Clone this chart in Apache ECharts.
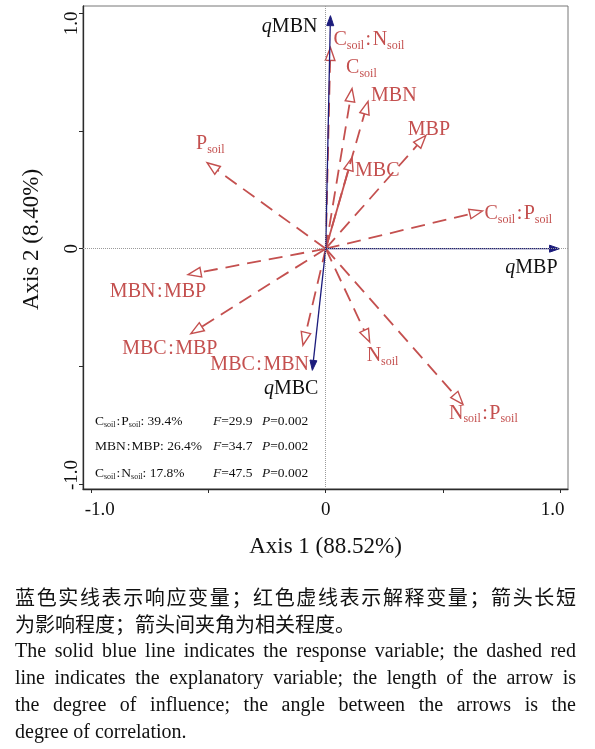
<!DOCTYPE html>
<html>
<head>
<meta charset="utf-8">
<script src="https://cdn.jsdelivr.net/npm/echarts@6/dist/echarts.min.js"></script>
<style>
  html, body { margin: 0; padding: 0; background: #fff; }
  #chart { position: absolute; left: 0; top: 0; width: 595px; height: 749px; }
  #caption { position: absolute; left: 15px; top: 583px; width: 561px; color: #111; }
  #caption div { margin: 0; line-height: 27px; height: 27px; white-space: nowrap; }
  #caption .j { text-align: justify; text-align-last: justify; white-space: normal; }
  #caption .zh { font-family: "Noto Sans CJK SC", sans-serif; font-size: 20px; }
  #caption .en { font-family: "Liberation Serif", "Times New Roman", serif; font-size: 20px; }
</style>
</head>
<body>
<div id="chart"></div>
<div id="caption">
  <div class="zh j">蓝色实线表示响应变量；红色虚线表示解释变量；箭头长短</div>
  <div class="zh">为影响程度；箭头间夹角为相关程度。</div>
  <div class="en j">The solid blue line indicates the response variable; the dashed red</div>
  <div class="en j">line indicates the explanatory variable; the length of the arrow is</div>
  <div class="en j">the degree of influence; the angle between the arrows is the</div>
  <div class="en">degree of correlation.</div>
</div>
<script>
// ---- data ----
const responseNames = ['qMBN', 'qMBP', 'qMBC'];
const responseX = [0.02, 0.995, -0.057];
const responseY = [0.99, 0.0, -0.517];

const explanatoryNames = ['Csoil:Nsoil', 'Csoil', 'MBN', 'MBP', 'MBC', 'Csoil:Psoil',
  'Psoil', 'MBN:MBP', 'MBC:MBP', 'MBC:MBN', 'Nsoil', 'Nsoil:Psoil'];
const explanatoryX = [0.02, 0.112, 0.18, 0.426, 0.112, 0.667, -0.505, -0.586, -0.574, -0.097, 0.187, 0.584];
const explanatoryY = [0.855, 0.68, 0.626, 0.481, 0.387, 0.16, 0.365, -0.11, -0.361, -0.41, -0.397, -0.661];

const tickValues = [-1, -0.5, 0, 0.5, 1];
const tickLabelValues = [-1, 0, 1];
const tickLabels = ['-1.0', '0', '1.0'];

const statVariables = ['Csoil:Psoil', 'MBN:MBP', 'Csoil:Nsoil'];
const statExplained = ['39.4%', '26.4%', '17.8%'];
const statF = ['29.9', '34.7', '47.5'];
const statP = ['0.002', '0.002', '0.002'];

// ---- styling / layout ----
const RED = '#c4504f';
const BLUE = '#1c1c7c';
const FONT = '"Liberation Serif", "Times New Roman", serif';
const solidExplanatory = ['MBC'];

// label placement relative to arrow tip, in pixels: [dx, dy, align]
const explanatoryLabelPlace = [
  [3, -8, 'left'], [-6, -21, 'left'], [3, -6, 'left'], [-18, -6, 'left'],
  [3, 13, 'left'], [2, 3, 'left'], [-11, -19, 'left'], [-30, 17, 'center'],
  [-21, 15, 'center'], [6, 20, 'right'], [-3, 14, 'left'], [-14, 9, 'left']
];
const responseLabelPlace = [[-13, 11, 'right'], [-2, 19, 'right'], [6, 18, 'right']];

function richName(name) {
  return name.replace(/^q/, '{i|q}').replace(/soil/g, '{s|soil}').replace(/:/g, '{c|:}');
}

const labelRich = {
  s: { fontSize: 12, fontFamily: FONT, padding: [12, 0, 0, 0] },
  c: { fontSize: 20, fontFamily: FONT, padding: [0, 1.5, 0, 1.5] },
  i: { fontSize: 20, fontStyle: 'italic', fontFamily: FONT }
};

function makeArrowRenderer(names, places, color, isResponse) {
  return function (params, api) {
    const p0 = api.coord([0, 0]);
    const p1 = api.coord([api.value(0), api.value(1)]);
    const dx = p1[0] - p0[0], dy = p1[1] - p0[1];
    const len = Math.hypot(dx, dy);
    const ux = dx / len, uy = dy / len;
    const L = isResponse ? 10 : 13;
    const W = isResponse ? 3.5 : 4.8;
    const base = [p1[0] - ux * L, p1[1] - uy * L];
    const left = [base[0] - uy * W, base[1] + ux * W];
    const right = [base[0] + uy * W, base[1] - ux * W];
    const name = names[params.dataIndex];
    const solid = isResponse || solidExplanatory.indexOf(name) >= 0;
    const place = places[params.dataIndex];
    return {
      type: 'group',
      children: [
        {
          type: 'line',
          shape: { x1: p0[0], y1: p0[1], x2: base[0], y2: base[1] },
          style: {
            stroke: color,
            lineWidth: isResponse ? 1.3 : 1.8,
            lineDash: solid ? null : [14, 8]
          }
        },
        {
          type: 'polygon',
          shape: { points: [p1, left, right] },
          style: isResponse
            ? { fill: color, stroke: color, lineWidth: 1 }
            : { fill: 'none', stroke: color, lineWidth: 1.4 }
        },
        {
          type: 'text',
          style: {
            text: richName(name),
            x: p1[0] + place[0],
            y: p1[1] + place[1],
            align: place[2],
            verticalAlign: 'middle',
            fill: isResponse ? '#111' : color,
            fontSize: 20,
            fontFamily: FONT,
            rich: labelRich
          }
        }
      ]
    };
  };
}

const respData = responseNames.map((n, i) => [responseX[i], responseY[i]]);
const explData = explanatoryNames.map((n, i) => [explanatoryX[i], explanatoryY[i]]);

// statistics table (annotation text)
const statRows = [423, 448.5, 475];
const tableRich = {
  s: { fontSize: 8, fontFamily: FONT, padding: [8, 0, 0, 0] },
  c: { fontSize: 13.5, fontFamily: FONT, padding: [0, 1, 0, 1] },
  i: { fontStyle: 'italic', fontFamily: FONT, fontSize: 13.5 }
};
const graphics = [];
statVariables.forEach((v, i) => {
  const common = { fontSize: 13.5, fontFamily: FONT, fill: '#111', verticalAlign: 'middle', rich: tableRich };
  graphics.push({ type: 'text', left: 95, top: statRows[i] - 9, style: Object.assign({
    text: v.replace(/soil/g, '{s|soil}').replace(/:/g, '{c|:}') + ': ' + statExplained[i] }, common) });
  graphics.push({ type: 'text', left: 213, top: statRows[i] - 9, style: Object.assign({
    text: '{i|F}=' + statF[i] }, common) });
  graphics.push({ type: 'text', left: 262, top: statRows[i] - 9, style: Object.assign({
    text: '{i|P}=' + statP[i] }, common) });
});

function tickFormatter(v) {
  const idx = tickLabelValues.indexOf(v);
  const t = idx >= 0 ? tickLabels[idx] : '';
  if (v === tickLabelValues[0]) return '{lo|' + t + '}';
  if (v === tickLabelValues[tickLabelValues.length - 1]) return '{hi|' + t + '}';
  return t;
}

const axisCommon = {
  type: 'value',
  axisLine: { show: true, onZero: false, lineStyle: { color: '#2b2b2b', width: 1.3 } },
  axisTick: { show: true, customValues: tickValues, length: 4, lineStyle: { color: '#2b2b2b', width: 1 } },
  splitLine: { show: false },
  nameLocation: 'middle'
};

const chart = echarts.init(document.getElementById('chart'), null, { renderer: 'canvas' });
chart.setOption({
  animation: false,
  backgroundColor: '#fff',
  grid: { left: 83, top: 6, width: 485, height: 483, show: true, borderColor: '#777', borderWidth: 1, backgroundColor: 'transparent' },
  xAxis: Object.assign({}, axisCommon, {
    min: -1.033, max: 1.031,
    name: 'Axis 1 (88.52%)', nameGap: 46,
    nameTextStyle: { fontSize: 23, fontFamily: FONT, color: '#111' },
    axisLabel: {
      customValues: tickLabelValues, formatter: tickFormatter, margin: 12,
      fontSize: 19, fontFamily: FONT, color: '#111',
      rich: { lo: { fontSize: 19, fontFamily: FONT, padding: [0, 0, 0, 18] },
              hi: { fontSize: 19, fontFamily: FONT, padding: [0, 16, 0, 0] } }
    }
  }),
  yAxis: Object.assign({}, axisCommon, {
    min: -1.021, max: 1.031,
    name: 'Axis 2 (8.40%)', nameGap: 40, nameRotate: 90,
    nameTextStyle: { fontSize: 23, fontFamily: FONT, color: '#111', padding: [0, 0, 0, 16] },
    axisLabel: {
      customValues: tickLabelValues, formatter: tickFormatter, margin: 1, rotate: 90,
      fontSize: 19, fontFamily: FONT, color: '#111',
      rich: { lo: { fontSize: 19, fontFamily: FONT, padding: [0, 0, 0, 18] },
              hi: { fontSize: 19, fontFamily: FONT, padding: [0, 20, 0, 0] } }
    }
  }),
  graphic: graphics,
  series: [
    {
      type: 'custom',
      name: 'zero lines',
      data: [],
      renderItem: () => null,
      z: 1,
      markLine: {
        silent: true, symbol: 'none', label: { show: false },
        lineStyle: { type: 'dotted', color: '#9a9a9a', width: 1 },
        data: [{ xAxis: 0 }, { yAxis: 0 }]
      }
    },
    {
      type: 'custom', name: 'explanatory', z: 3,
      data: explData,
      renderItem: makeArrowRenderer(explanatoryNames, explanatoryLabelPlace, RED, false)
    },
    {
      type: 'custom', name: 'response', z: 4,
      data: respData,
      renderItem: makeArrowRenderer(responseNames, responseLabelPlace, BLUE, true)
    }
  ]
});
</script>
</body>
</html>
